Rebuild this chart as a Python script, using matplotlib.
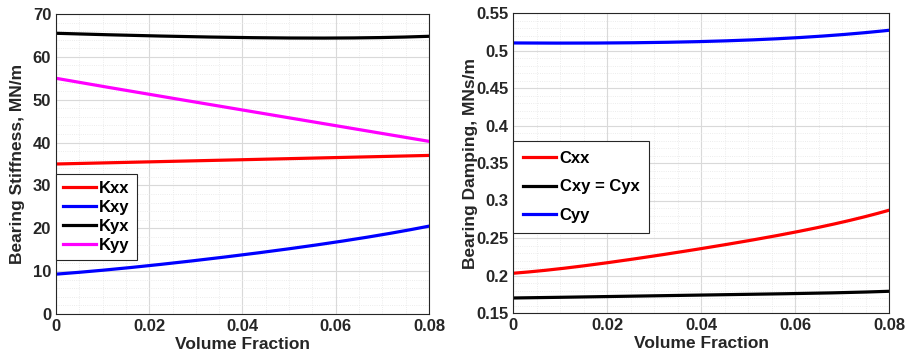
import numpy as np
import matplotlib
matplotlib.use('Agg')
import matplotlib.pyplot as plt
from matplotlib.ticker import MultipleLocator, FuncFormatter

plt.rcParams['font.family'] = ['Liberation Sans', 'DejaVu Sans']
plt.rcParams['font.weight'] = 'bold'

vf = [0.0, 0.01, 0.02, 0.03, 0.04, 0.05, 0.06, 0.07, 0.08]

kxx = [35.0, 35.25, 35.5, 35.75, 36.0, 36.25, 36.5, 36.75, 37.0]
kxy = [9.3, 10.2, 11.3, 12.5, 13.8, 15.2, 16.8, 18.5, 20.5]
kyx = [65.5, 65.2, 64.9, 64.7, 64.5, 64.4, 64.4, 64.5, 64.8]
kyy = [55.0, 53.1, 51.3, 49.4, 47.6, 45.8, 44.0, 42.1, 40.3]

cxx = [0.203, 0.209, 0.217, 0.226, 0.236, 0.246, 0.258, 0.271, 0.287]
cxy = [0.170, 0.171, 0.172, 0.173, 0.174, 0.175, 0.176, 0.177, 0.179]
cyy = [0.510, 0.510, 0.510, 0.5105, 0.512, 0.514, 0.517, 0.521, 0.527]

def smooth(x, y, n=200):
    xs = np.linspace(x[0], x[-1], n)
    c = np.polyfit(x, y, 4)
    return xs, np.polyval(c, xs)

fmt = FuncFormatter(lambda v, p: '%g' % round(v, 6))

def style_axes(ax):
    ax.set_xlim(0, 0.08)
    ax.xaxis.set_major_locator(MultipleLocator(0.02))
    ax.xaxis.set_minor_locator(MultipleLocator(0.005))
    ax.xaxis.set_major_formatter(fmt)
    ax.yaxis.set_major_formatter(fmt)
    ax.grid(which='major', color='#d9d9d9', linewidth=0.8)
    ax.grid(which='minor', color='#e6e6e6', linewidth=0.6, linestyle=':')
    ax.set_axisbelow(True)
    ax.tick_params(which='both', direction='in', labelsize=12, length=0, colors='#262626')
    for s in ax.spines.values():
        s.set_color('#262626')
        s.set_linewidth(0.8)
    ax.set_xlabel('Volume Fraction', fontsize=12.5, fontweight='bold', color='#262626', labelpad=2)

def make_legend(ax, top, spacing, pad):
    leg = ax.legend(loc='upper left', bbox_to_anchor=(0.0, top), fontsize=12,
                    frameon=True, fancybox=False, edgecolor='#262626', framealpha=1,
                    handlelength=2.0, handletextpad=0.2, labelspacing=spacing,
                    borderpad=pad, borderaxespad=0)
    leg.get_frame().set_linewidth(0.8)
    return leg

fig = plt.figure(figsize=(9.06, 3.64), dpi=100)
ax1 = fig.add_axes([56/906, 1 - 314/364, 373/906, 300/364])
ax2 = fig.add_axes([513/906, 1 - 313/364, 376/906, 300/364])

lw = 2.3
for y, c, lab in [(kxx, '#ff0000', 'Kxx'), (kxy, '#0000ff', 'Kxy'),
                  (kyx, '#000000', 'Kyx'), (kyy, '#ff00ff', 'Kyy')]:
    xs, ys = smooth(vf, y)
    ax1.plot(xs, ys, color=c, lw=lw, label=lab)
ax1.set_ylim(0, 70)
ax1.yaxis.set_major_locator(MultipleLocator(10))
ax1.yaxis.set_minor_locator(MultipleLocator(2))
style_axes(ax1)
ax1.set_ylabel('Bearing Stiffness, MN/m', fontsize=12.5, fontweight='bold', color='#262626')
ax1.yaxis.set_label_coords(-0.083, 0.5)
make_legend(ax1, 0.467, 0.25, 0.4)

for y, c, lab in [(cxx, '#ff0000', 'Cxx'), (cxy, '#000000', 'Cxy = Cyx'),
                  (cyy, '#0000ff', 'Cyy')]:
    xs, ys = smooth(vf, y)
    ax2.plot(xs, ys, color=c, lw=lw, label=lab)
ax2.set_ylim(0.15, 0.55)
ax2.yaxis.set_major_locator(MultipleLocator(0.05))
ax2.yaxis.set_minor_locator(MultipleLocator(0.01))
style_axes(ax2)
ax2.set_ylabel('Bearing Damping, MNs/m', fontsize=12.5, fontweight='bold', color='#262626')
ax2.yaxis.set_label_coords(-0.093, 0.5)
make_legend(ax2, 0.573, 0.8, 0.6)

fig.savefig('out.png', dpi=100)
